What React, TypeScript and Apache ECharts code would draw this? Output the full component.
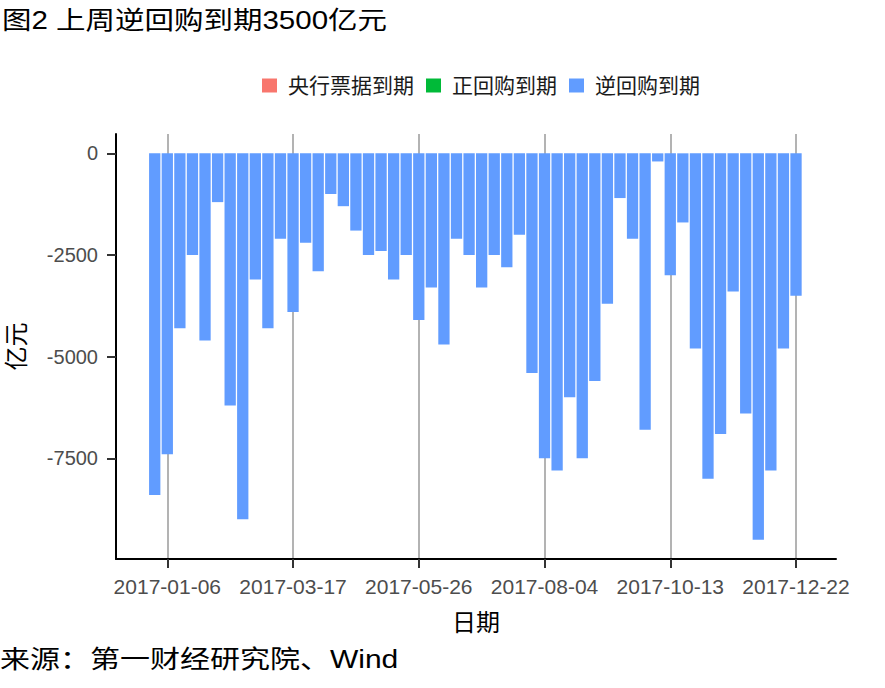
import React, { useEffect, useRef } from "react";
import * as echarts from "echarts";

const dates: string[] = [
  "2016-12-30", "2017-01-06", "2017-01-13", "2017-01-20", "2017-01-27",
  "2017-02-03", "2017-02-10", "2017-02-17", "2017-02-24",
  "2017-03-03", "2017-03-10", "2017-03-17", "2017-03-24", "2017-03-31",
  "2017-04-07", "2017-04-14", "2017-04-21", "2017-04-28",
  "2017-05-05", "2017-05-12", "2017-05-19", "2017-05-26",
  "2017-06-02", "2017-06-09", "2017-06-16", "2017-06-23", "2017-06-30",
  "2017-07-07", "2017-07-14", "2017-07-21", "2017-07-28",
  "2017-08-04", "2017-08-11", "2017-08-18", "2017-08-25",
  "2017-09-01", "2017-09-08", "2017-09-15", "2017-09-22", "2017-09-29",
  "2017-10-06", "2017-10-13", "2017-10-20", "2017-10-27",
  "2017-11-03", "2017-11-10", "2017-11-17", "2017-11-24",
  "2017-12-01", "2017-12-08", "2017-12-15", "2017-12-22",
];

const reverseRepo: number[] = [
  -8400, -7400, -4300, -2500, -4600, -1200, -6200, -9000, -3100, -4300,
  -2100, -3900, -2200, -2900, -1000, -1300, -1900, -2500, -2400, -3100,
  -2500, -4100, -3300, -4700, -2100, -2500, -3300, -2500, -2800, -2000,
  -5400, -7500, -7800, -6000, -7500, -5600, -3700, -1100, -2100, -6800,
  -200, -3000, -1700, -4800, -8000, -6900, -3400, -6400, -9500, -7800,
  -4800, -3500,
];

const xTickDates: string[] = ["2017-01-06", "2017-03-17", "2017-05-26", "2017-08-04", "2017-10-13", "2017-12-22"];
const yTicks: number[] = [0, -2500, -5000, -7500];

const seriesNames: string[] = ["央行票据到期", "正回购到期", "逆回购到期"];
const seriesColors: string[] = ["#F8766D", "#00BA38", "#619CFF"];

const titleText = "图2 上周逆回购到期3500亿元";
const sourceText = "来源：第一财经研究院、Wind";

const FONT = "'Liberation Sans', Arial, 'Noto Sans CJK SC', sans-serif";
const DAY = 24 * 3600 * 1000;
const WEEK = 7 * DAY;

function parseDay(s: string): number {
  const [y, m, d] = s.split("-").map(Number);
  return Date.UTC(y, m - 1, d);
}

function fmtDay(v: number): string {
  const d = new Date(Math.round(v / DAY) * DAY);
  const p = (n: number) => (n < 10 ? "0" + n : "" + n);
  return d.getUTCFullYear() + "-" + p(d.getUTCMonth() + 1) + "-" + p(d.getUTCDate());
}

export default function App() {
  const ref = useRef<HTMLDivElement>(null);
  useEffect(() => {
    document.body.style.margin = "0";
    if (!ref.current) return;
    const chart = echarts.init(ref.current, undefined, { renderer: "svg" });
    const times = dates.map(parseDay);
    const tickTimes = xTickDates.map(parseDay);
    const option: any = {
      animation: false,
      backgroundColor: "#ffffff",
      textStyle: { fontFamily: FONT },
      legend: {
        left: 257,
        top: 70,
        itemWidth: 15,
        itemHeight: 14,
        itemGap: 12,
        icon: "rect",
        data: seriesNames,
        textStyle: { fontSize: 21, color: "#1a1a1a", fontFamily: FONT, padding: [0, 0, 0, 6] },
      },
      grid: { left: 116, right: 49, top: 134, bottom: 129, outerBoundsMode: "none", containLabel: false },
      xAxis: {
        type: "value",
        min: times[0] - 3.08 * WEEK,
        max: times[times.length - 1] + 3.18 * WEEK,
        name: "日期",
        nameLocation: "middle",
        nameGap: 51,
        nameTextStyle: { fontSize: 24, color: "#000", fontFamily: FONT },
        axisLine: { onZero: false, lineStyle: { color: "#000", width: 2 } },
        axisTick: { show: true, length: 9, customValues: tickTimes, lineStyle: { color: "#333", width: 2 } },
        axisLabel: {
          customValues: tickTimes,
          formatter: (v: number) => fmtDay(v),
          fontSize: 21,
          color: "#4D4D4D",
          margin: 17,
          fontFamily: FONT,
          showMinLabel: true,
          showMaxLabel: true,
        },
        splitLine: { show: true, lineStyle: { color: "#B3B3B3", width: 2 } },
      },
      yAxis: {
        type: "value",
        min: -9975,
        max: 475,
        name: "亿元",
        nameLocation: "middle",
        nameGap: 88,
        nameRotate: 90,
        nameTextStyle: { fontSize: 24, color: "#000", fontFamily: FONT },
        axisLine: { show: true, onZero: false, lineStyle: { color: "#000", width: 2 } },
        axisTick: { show: true, length: 9, customValues: yTicks, lineStyle: { color: "#333", width: 2 } },
        axisLabel: {
          customValues: yTicks,
          formatter: (v: number) => String(v),
          fontSize: 20,
          color: "#4D4D4D",
          margin: 18,
          fontFamily: FONT,
        },
        splitLine: { show: false },
      },
      series: [
        { name: seriesNames[0], type: "bar", data: [], itemStyle: { color: seriesColors[0] } },
        { name: seriesNames[1], type: "bar", data: [], itemStyle: { color: seriesColors[1] } },
        {
          name: seriesNames[2],
          type: "bar",
          barWidth: 11.3,
          barGap: "-100%",
          data: times.map((t, i) => [t, reverseRepo[i]]),
          itemStyle: { color: seriesColors[2] },
        },
      ],
      graphic: [
        {
          type: "text",
          x: 2,
          y: 8,
          scaleX: 1.18,
          style: { text: titleText, fontSize: 25, fill: "#000", fontFamily: FONT },
        },
        {
          type: "text",
          x: 0,
          y: 647,
          scaleX: 1.2,
          style: { text: sourceText, fontSize: 25, fill: "#000", fontFamily: FONT },
        },
      ],
    };
    chart.setOption(option);
    return () => chart.dispose();
  }, []);
  return <div ref={ref} style={{ width: 885, height: 688 }} />;
}
